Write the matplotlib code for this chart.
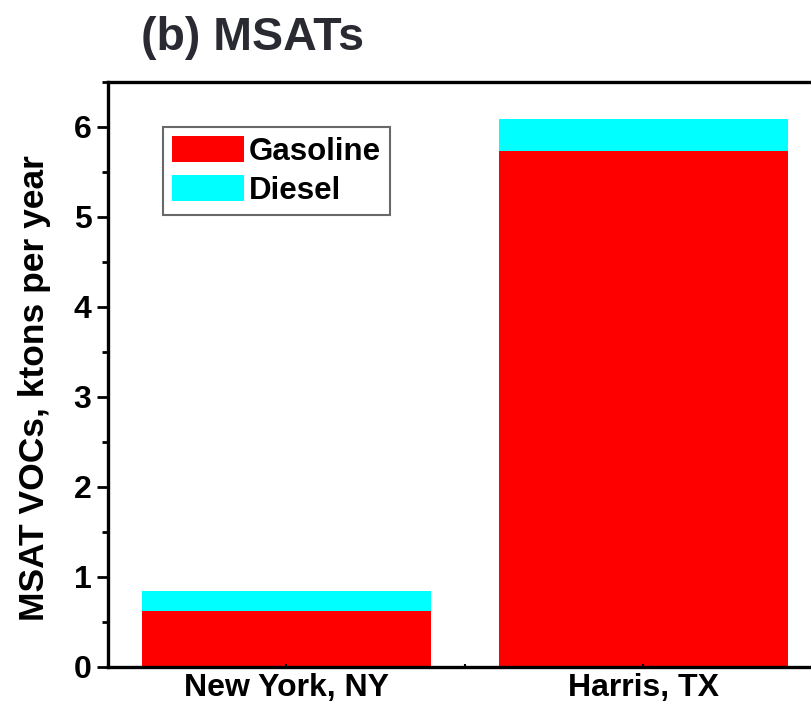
import matplotlib
matplotlib.use("Agg")
import matplotlib.pyplot as plt
from matplotlib.ticker import MultipleLocator

plt.rcParams["font.family"] = ["Liberation Sans", "DejaVu Sans"]
plt.rcParams["font.weight"] = "bold"

counties = ["New York, NY", "Harris, TX"]
gasoline = [0.62, 5.73]
diesel = [0.22, 0.36]

W, H = 812, 709
fig = plt.figure(figsize=(W / 100, H / 100), dpi=100)
ax = fig.add_axes([108 / W, (H - 667) / H, (822 - 108) / W, (667 - 82) / H])

x = range(len(counties))
ax.bar(x, gasoline, width=0.81, color="#ff0000", label="Gasoline")
ax.bar(x, diesel, width=0.81, bottom=gasoline, color="#00ffff", label="Diesel")

ax.set_xlim(-0.5, 1.5)
ax.set_ylim(0, 6.5)
ax.set_xticks(list(x))
ax.set_xticklabels(counties, fontsize=23, fontweight="bold")
ax.yaxis.set_major_locator(MultipleLocator(1))
ax.yaxis.set_minor_locator(MultipleLocator(0.5))
ax.xaxis.set_minor_locator(MultipleLocator(0.5))
for lab in ax.get_yticklabels():
    lab.set_fontweight("bold")
ax.tick_params(axis="y", which="major", labelsize=23, length=8, width=2, pad=4)
ax.tick_params(axis="y", which="minor", length=4.5, width=2)
ax.tick_params(axis="x", which="both", direction="in", length=2, width=1.5, pad=4)
for s in ax.spines.values():
    s.set_linewidth(2.4)

fig.text(35 / W, 1 - 388 / H, "MSAT VOCs, ktons per year", rotation=90,
         fontsize=25.5, fontweight="bold", ha="center", va="center")
fig.text(141 / W, 1 - 50 / H, "(b) MSATs", fontsize=33.5, fontweight="bold",
         color="#2a2a33", ha="left", va="baseline")

leg = ax.legend(loc="upper left", bbox_to_anchor=((163 - 108) / 714, (667 - 127) / 585),
                prop={"weight": "bold", "size": 22.5}, frameon=True,
                fancybox=False, borderaxespad=0, handlelength=2.3, handleheight=0.9,
                handletextpad=0.15, labelspacing=0.25, borderpad=0.3)
leg.get_frame().set_edgecolor("#444444")
leg.get_frame().set_linewidth(1.5)

fig.savefig("out.png", dpi=100)
